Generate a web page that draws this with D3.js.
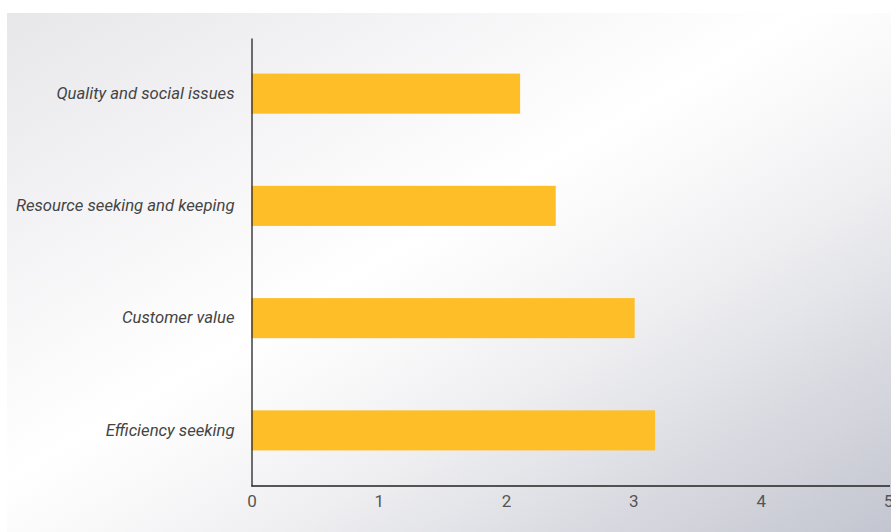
<!DOCTYPE html>
<html>
<head>
<meta charset="utf-8">
<script src="https://cdn.jsdelivr.net/npm/d3@7"></script>
<style>
  html, body { margin: 0; padding: 0; background: #ffffff; }
  svg { display: block; }
</style>
</head>
<body>
<svg id="chart" width="891" height="532"></svg>
<script>
// Motive categories, top to bottom, and their mean scores
const categories = [
  "Quality and social issues",
  "Resource seeking and keeping",
  "Customer value",
  "Efficiency seeking"
];
const scores = [2.11, 2.39, 3.01, 3.17];
const tickValues = [0, 1, 2, 3, 4, 5];

const width = 891, height = 532;
const svg = d3.select("#chart");

// Soft diagonal backdrop panel
const defs = svg.append("defs");
const grad = defs.append("linearGradient")
  .attr("id", "panelGrad")
  .attr("x1", 0).attr("y1", 0).attr("x2", 1).attr("y2", 1);
[
  [0.00, "#e7e7ea"],
  [0.22, "#f3f3f5"],
  [0.45, "#ffffff"],
  [0.55, "#f8f8f9"],
  [0.66, "#eeeef1"],
  [0.80, "#dcdde3"],
  [1.00, "#c3c5d0"]
].forEach(([o, c]) => grad.append("stop").attr("offset", o).attr("stop-color", c));

svg.append("rect")
  .attr("x", 7).attr("y", 13)
  .attr("width", width - 7).attr("height", height - 13)
  .attr("fill", "url(#panelGrad)");

const plot = { left: 251.5, right: 888, top: 38, bottom: 486 };

const x = d3.scaleLinear().domain([0, 5]).range([plot.left, plot.right]);
const y = d3.scaleBand()
  .domain(categories)
  .range([plot.top, plot.bottom])
  .paddingInner(0.643)
  .paddingOuter(0.317);

const data = categories.map((c, i) => ({ category: c, value: scores[i] }));

// Bars
svg.append("g")
  .selectAll("rect")
  .data(data)
  .join("rect")
  .attr("x", x(0))
  .attr("y", d => y(d.category))
  .attr("width", d => x(d.value) - x(0))
  .attr("height", y.bandwidth())
  .attr("fill", "#febe28");

// Bottom axis: line plus numeric labels, no tick marks
const xAxis = svg.append("g")
  .attr("transform", `translate(0,${plot.bottom})`)
  .call(d3.axisBottom(x).tickValues(tickValues).tickFormat(d3.format("d"))
    .tickSizeInner(0).tickSizeOuter(0).tickPadding(9));
xAxis.select(".domain")
  .attr("stroke", "#222")
  .attr("stroke-width", 1.3)
  .attr("d", `M${plot.left},0H${width - 1}`);
xAxis.selectAll(".tick text")
  .attr("fill", "#555")
  .style("font-family", "Roboto, sans-serif")
  .style("font-size", "17px");

// Left axis: line plus italic category labels
const yAxis = svg.append("g")
  .attr("transform", `translate(${plot.left},0)`)
  .call(d3.axisLeft(y).tickSizeInner(0).tickSizeOuter(0).tickPadding(17));
yAxis.select(".domain")
  .attr("stroke", "#222")
  .attr("stroke-width", 1.3);
yAxis.selectAll(".tick text")
  .attr("fill", "#444")
  .style("font-family", "Roboto, sans-serif")
  .style("font-style", "italic")
  .style("font-size", "16.7px");
</script>
</body>
</html>
